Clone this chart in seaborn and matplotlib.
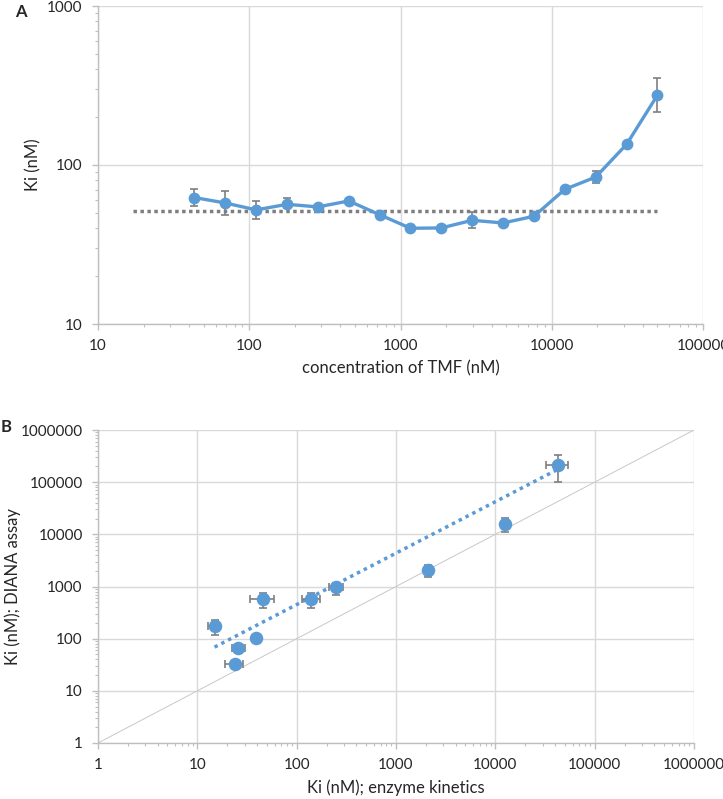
import matplotlib
matplotlib.use("Agg")
import matplotlib.pyplot as plt
import matplotlib.ticker as mticker
import numpy as np
import pandas as pd
import seaborn as sns

# panel A: Ki vs TMF concentration
tmf_conc = [43.4, 69.4, 111, 178, 284, 455, 728, 1164, 1863, 2980, 4768, 7629, 12207, 19531, 31250, 50000]
ki_a = [62.4, 57.7, 52.2, 56.6, 54.5, 59.4, 48.7, 40.0, 40.2, 44.9, 43.2, 47.6, 70.3, 84.0, 134.9, 275]
ki_a_err_lo = [7.5, 9.2, 6.2, 3.0, 1, 1, 1, 1, 1, 5.0, 1, 1, 1, 6.6, 1, 61]
ki_a_err_hi = [8.2, 11.3, 6.9, 5.1, 1, 1, 1, 1, 1, 6.0, 1, 1, 1, 7.7, 1, 76]
ki_ref = 51.6
ref_range = [17, 50000]

# panel B: DIANA vs enzyme kinetics
ki_enzyme = [14.9, 45.8, 25.7, 23.9, 39, 139, 250, 2100, 12650, 42800]
ki_diana = [173, 570, 67, 32, 104.5, 570, 970, 2060, 16030, 212000]
enz_err_lo = [2, 11.8, 3.5, 4.8, 0, 26.5, 39, 100, 600, 10100]
enz_err_hi = [2, 12.8, 4.5, 4.7, 0, 31.6, 44, 100, 600, 11300]
diana_err_lo = [57, 187, 5, 5, 0, 183, 270, 530, 5130, 113400]
diana_err_hi = [52, 197, 5, 5, 0, 184, 200, 510, 4470, 114000]
trend_coef = 4.8
trend_exp = 0.986

blue = "#5b9bd5"
errc = "#7f7f7f"
gridc = "#d9d9d9"

sns.set_style("white")
plt.rcParams['font.family'] = ['Lato', 'DejaVu Sans']

fig = plt.figure(figsize=(7.23, 7.99), dpi=100)
W, H = 723, 799
axA = fig.add_axes([98 / W, 1 - 324 / H, (703 - 98) / W, (324 - 6) / H])
axB = fig.add_axes([98 / W, 1 - 743 / H, (694 - 98) / W, (743 - 430) / H])


def style_axis(ax, xlim, ylim):
    ax.set_xscale("log")
    ax.set_yscale("log")
    ax.set_xlim(*xlim)
    ax.set_ylim(*ylim)
    fmt = mticker.FuncFormatter(lambda v, _: f"{v:.0f}")
    ax.xaxis.set_major_formatter(fmt)
    ax.yaxis.set_major_formatter(fmt)
    ax.xaxis.set_major_locator(mticker.LogLocator(base=10, numticks=20))
    ax.yaxis.set_major_locator(mticker.LogLocator(base=10, numticks=20))
    ax.xaxis.set_minor_locator(mticker.LogLocator(base=10, subs=np.arange(2, 10), numticks=20))
    ax.yaxis.set_minor_locator(mticker.LogLocator(base=10, subs=np.arange(2, 10), numticks=20))
    ax.xaxis.set_minor_formatter(mticker.NullFormatter())
    ax.yaxis.set_minor_formatter(mticker.NullFormatter())
    ax.grid(True, which="major", color=gridc, linewidth=1)
    ax.set_axisbelow(True)
    for s in ["top", "right"]:
        ax.spines[s].set_visible(False)
    for s in ["left", "bottom"]:
        ax.spines[s].set_color("#bfbfbf")
        ax.spines[s].set_linewidth(1)
    ax.tick_params(which="major", length=4, width=1, color="#bfbfbf", labelsize=11,
                   labelcolor="#262626", pad=7, bottom=True, left=True)
    ax.tick_params(which="minor", length=2.5, width=0.8, color="#bfbfbf", bottom=True, left=True)


# ---- panel A ----
style_axis(axA, (10, 100000), (10, 1000))
axA.plot(ref_range, [ki_ref, ki_ref], color=errc, linestyle=(0, (1, 1)), linewidth=2.5, zorder=2)
axA.errorbar(tmf_conc, ki_a, yerr=[ki_a_err_lo, ki_a_err_hi], fmt="none",
             ecolor=errc, elinewidth=1.2, capsize=3, capthick=1.2, zorder=3)
dfA = pd.DataFrame({"conc": tmf_conc, "ki": ki_a})
sns.lineplot(data=dfA, x="conc", y="ki", ax=axA, color=blue, linewidth=2.4,
             marker="o", markersize=8.5, markeredgewidth=0, zorder=4)
axA.set_xlabel("concentration of TMF (nM)", fontsize=12, color="#262626", labelpad=5)
axA.set_ylabel("Ki (nM)", fontsize=12, color="#262626")
axA.yaxis.set_label_coords(-0.094, 0.5)
fig.text(15 / W, 1 - 12 / H, "A", fontsize=12, fontweight="bold", va="center", ha="left")

# ---- panel B ----
style_axis(axB, (1, 1000000), (1, 1000000))
axB.plot([1, 1000000], [1, 1000000], color="#c8c8c8", linewidth=0.7, zorder=2)
trend_x = np.logspace(np.log10(min(ki_enzyme)), np.log10(max(ki_enzyme)), 50)
axB.plot(trend_x, trend_coef * trend_x ** trend_exp, color=blue,
         linestyle=(0, (1, 1.2)), linewidth=2.5, zorder=3)
axB.errorbar(ki_enzyme, ki_diana, xerr=[enz_err_lo, enz_err_hi], yerr=[diana_err_lo, diana_err_hi],
             fmt="none", ecolor=errc, elinewidth=1.2, capsize=3, capthick=1.2, zorder=4)
dfB = pd.DataFrame({"enz": ki_enzyme, "diana": ki_diana})
sns.scatterplot(data=dfB, x="enz", y="diana", ax=axB, color=blue, s=95,
                linewidth=0, zorder=5)
axB.set_xlabel("Ki (nM); enzyme kinetics", fontsize=12, color="#262626", labelpad=5)
axB.set_ylabel("Ki (nM); DIANA assay", fontsize=12, color="#262626")
axB.yaxis.set_label_coords(-0.129, 0.5)
fig.text(1 / W, 1 - 427 / H, "B", fontsize=12, fontweight="bold", va="center", ha="left")

fig.savefig("out.png", dpi=100)
